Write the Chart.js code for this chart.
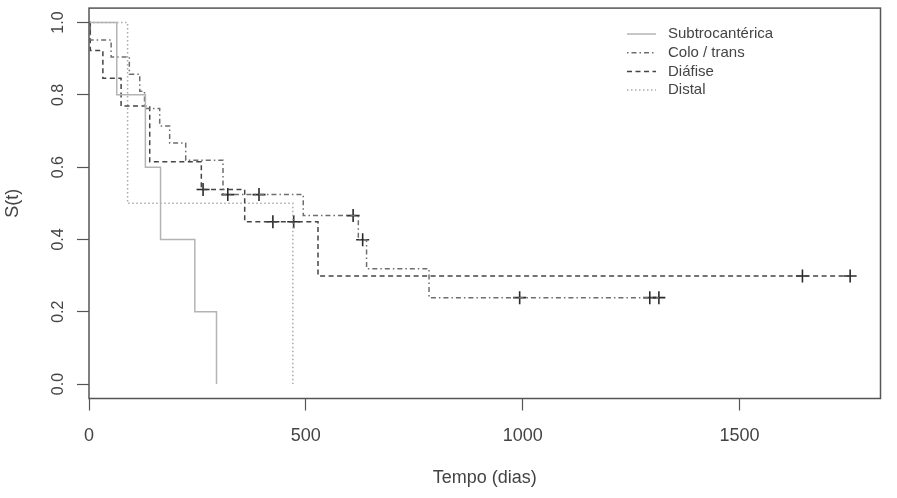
<!DOCTYPE html>
<html>
<head>
<meta charset="utf-8">
<script src="https://cdn.jsdelivr.net/npm/chart.js@4.4.1/dist/chart.umd.min.js"></script>
<style>
  html, body { margin: 0; padding: 0; background: #fff; }
  canvas { display: block; }
</style>
</head>
<body>
<canvas id="kmChart" width="897" height="498"></canvas>
<script>
// Kaplan-Meier curves (time in days, S(t))
const seriesLabels = ['Subtrocantérica', 'Colo / trans', 'Diáfise', 'Distal'];

const subtroTimes = [0, 64, 130, 165, 244, 294];
const subtroSurv = [1, 0.8, 0.6, 0.4, 0.2, 0];

const coloTimes = [0, 3, 51, 93, 117, 128, 163, 186, 223, 309, 494, 621, 640, 784, 1314];
const coloSurv = [1, 0.952, 0.905, 0.857, 0.81, 0.762, 0.714, 0.667, 0.619, 0.524, 0.466, 0.399, 0.319, 0.239, 0.239];
const coloCensor = [320, 392, 609, 631, 993, 1293, 1314];

const diafTimes = [0, 3, 32, 74, 140, 259, 359, 528, 1755];
const diafSurv = [1, 0.923, 0.846, 0.769, 0.615, 0.538, 0.449, 0.299, 0.299];
const diafCensor = [263, 424, 472, 1645, 1755];

const distalTimes = [0, 89, 470];
const distalSurv = [1, 0.5, 0];

const xTicks = [0, 500, 1000, 1500];
const yTicks = [0, 0.2, 0.4, 0.6, 0.8, 1.0];
const yTickLabels = ['0.0', '0.2', '0.4', '0.6', '0.8', '1.0'];

const FONT = '"Liberation Sans", Arial, sans-serif';
const TEXT = '#444';

function toPoints(times, surv) {
    return times.map((t, i) => ({ x: t, y: surv[i] }));
}

// value of the step curve at time t
function survAt(times, surv, t) {
    let s = surv[0];
    for (let i = 0; i < times.length; i++) {
        if (times[i] <= t) s = surv[i];
    }
    return s;
}

function censorPoints(times, surv, censor) {
    return censor.map(t => ({ x: t, y: survAt(times, surv, t) }));
}

function stepLine(label, times, surv, color, dash) {
    return {
        label: label,
        data: toPoints(times, surv),
        stepped: 'before',
        borderColor: color,
        borderWidth: 1.5,
        borderDash: dash,
        pointRadius: 0,
        fill: false
    };
}

function censorMarks(times, surv, censor) {
    return {
        label: '',
        isCensor: true,
        data: censorPoints(times, surv, censor),
        showLine: false,
        pointStyle: 'cross',
        pointRadius: 6.5,
        pointBorderWidth: 1.6,
        pointBorderColor: '#2a2a2a',
        borderColor: '#2a2a2a'
    };
}

const boxAndLegend = {
    id: 'boxAndLegend',
    afterDraw(chart) {
        const ctx = chart.ctx;
        const a = chart.chartArea;
        ctx.save();
        // plot frame
        ctx.strokeStyle = '#555';
        ctx.lineWidth = 1.5;
        ctx.setLineDash([]);
        ctx.strokeRect(a.left, a.top, a.right - a.left, a.bottom - a.top);

        // y tick labels, rotated like R
        const ys = chart.scales.y;
        ctx.fillStyle = TEXT;
        ctx.font = '16px ' + FONT;
        ctx.textAlign = 'center';
        ctx.textBaseline = 'middle';
        yTicks.forEach((v, i) => {
            ctx.save();
            ctx.translate(59, ys.getPixelForValue(v));
            ctx.rotate(-Math.PI / 2);
            ctx.fillText(yTickLabels[i], 0, 0);
            ctx.restore();
        });

        // legend
        const lines = chart.data.datasets.filter(d => !d.isCensor);
        ctx.font = '15px ' + FONT;
        ctx.textAlign = 'left';
        lines.forEach((d, i) => {
            const y = 34 + i * 18.7;
            ctx.strokeStyle = d.borderColor;
            ctx.lineWidth = 1.5;
            ctx.setLineDash(d.borderDash || []);
            ctx.beginPath();
            ctx.moveTo(627, y);
            ctx.lineTo(656, y);
            ctx.stroke();
            ctx.setLineDash([]);
            ctx.fillStyle = TEXT;
            ctx.fillText(d.label, 668, y);
        });
        ctx.restore();
    }
};

new Chart(document.getElementById('kmChart'), {
    type: 'line',
    data: {
        datasets: [
            stepLine(seriesLabels[0], subtroTimes, subtroSurv, '#b4b4b4', []),
            stepLine(seriesLabels[1], coloTimes, coloSurv, '#6e6e6e', [1.5, 3, 5, 3]),
            stepLine(seriesLabels[2], diafTimes, diafSurv, '#444', [5, 3.5]),
            stepLine(seriesLabels[3], distalTimes, distalSurv, '#aaa', [1.5, 2.5]),
            censorMarks(coloTimes, coloSurv, coloCensor),
            censorMarks(diafTimes, diafSurv, diafCensor)
        ]
    },
    options: {
        responsive: false,
        animation: false,
        events: [],
        layout: { padding: { top: 7, right: 16.5, left: 0, bottom: 0 } },
        plugins: {
            legend: { display: false },
            tooltip: { enabled: false }
        },
        scales: {
            x: {
                type: 'linear',
                min: 0,
                max: 1825,
                afterBuildTicks: scale => { scale.ticks = xTicks.map(v => ({ value: v })); },
                afterFit: scale => { scale.height = 99.5; },
                border: { display: false },
                grid: { drawOnChartArea: false, drawTicks: true, tickLength: 12, tickColor: '#555', tickWidth: 1.2 },
                ticks: {
                    color: TEXT,
                    font: { family: FONT, size: 18 },
                    padding: 15,
                    maxRotation: 0,
                    callback: v => String(v)
                },
                title: {
                    display: true,
                    text: 'Tempo (dias)',
                    color: TEXT,
                    font: { family: FONT, size: 18 },
                    padding: { top: 0, bottom: 9 }
                }
            },
            y: {
                type: 'linear',
                min: -0.04,
                max: 1.04,
                afterBuildTicks: scale => { scale.ticks = yTicks.map(v => ({ value: v })); },
                afterFit: scale => { scale.width = 89; },
                border: { display: false },
                grid: { drawOnChartArea: false, drawTicks: true, tickLength: 12, tickColor: '#555', tickWidth: 1.2 },
                ticks: { display: false },
                title: {
                    display: true,
                    text: 'S(t)',
                    color: TEXT,
                    font: { family: FONT, size: 18 },
                    padding: { top: 2, bottom: 0 }
                }
            }
        }
    },
    plugins: [boxAndLegend]
});
</script>
</body>
</html>
